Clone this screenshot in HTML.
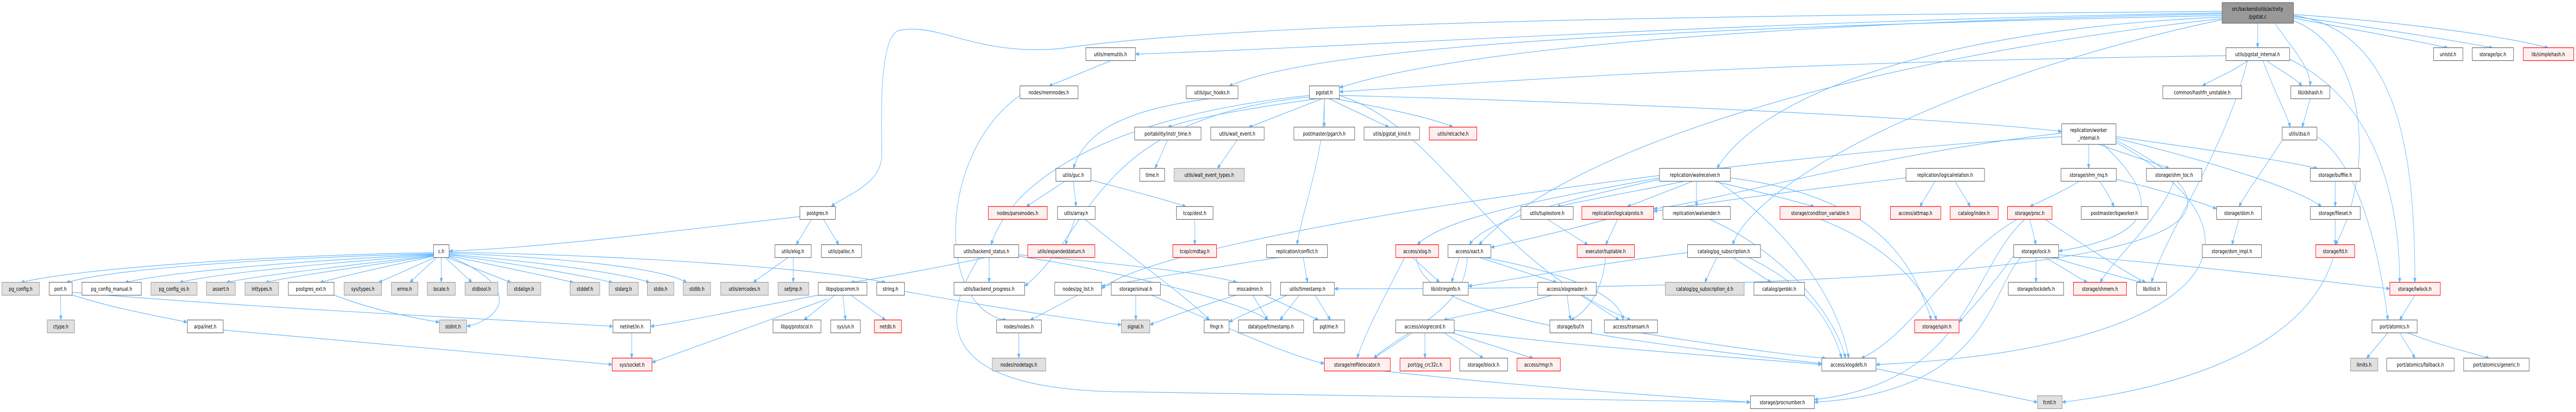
<!DOCTYPE html>
<html><head><meta charset="utf-8"><style>
html,body{margin:0;padding:0;background:#fff;width:100%;height:100%;overflow:hidden;}
svg{display:block;width:100vw;height:100vh;position:absolute;left:0;top:0}
.e{fill:none;stroke:#63b8ff;stroke-width:1.2}
rect{stroke-width:1.2}
.n{fill:#fff;stroke:#666}
.r{fill:#fff0f0;stroke:#f00}
.g{fill:#e0e0e0;stroke:#999}
.d{fill:#999;stroke:#666}
text{font-family:"DejaVu Sans","Liberation Sans",sans-serif;font-size:10.5px;text-anchor:middle;fill:#000}
</style></head><body>
<svg viewBox="0 0 6602 799" preserveAspectRatio="none" xmlns="http://www.w3.org/2000/svg">
<defs><marker id="a" markerWidth="10" markerHeight="8" refX="9" refY="4" orient="auto" markerUnits="userSpaceOnUse"><path d="M0,0 L10,4 L0,8 z" fill="#63b8ff"/></marker></defs>
<g class="e" marker-end="url(#a)">
<path d="M5786 45 L5786 93"/>
<path d="M5830 45 C5880 100 5921 130 5921 167"/>
<path d="M5878 35 C6050 60 6200 80 6274 93"/>
<path d="M5878 32 C6100 55 6300 80 6389 93"/>
<path d="M5878 28 C6200 45 6450 75 6531 93"/>
<path d="M5878 30 C6150 60 6189 300 6189 548"/>
<path d="M5878 40 C6080 100 6080 350 5985 475"/>
<path d="M5695 25 C4500 40 3500 90 2910 105"/>
<path d="M5695 22 C4500 30 3200 40 2720 94 C2500 110 2400 40 2300 60 C2250 80 2260 250 2260 300 C2260 360 2160 380 2130 401"/>
<path d="M5695 30 C4500 50 3400 80 3150 167"/>
<path d="M5695 27 C4800 40 3800 80 3433 170"/>
<path d="M5695 33 C4900 60 4500 200 4400 327"/>
<path d="M5695 36 C4700 120 4000 300 3790 475"/>
<path d="M5695 38 C5000 150 4500 350 4440 475"/>
<path d="M3433 185 C4200 200 5000 230 5284 255"/>
<path d="M5760 118 C5720 140 5680 150 5644 167"/>
<path d="M5810 118 C5850 140 5880 150 5900 167"/>
<path d="M5800 118 C5830 180 5860 220 5870 247"/>
<path d="M5760 118 C5700 300 5550 450 5514 548"/>
<path d="M5868 115 C6100 200 6150 400 6150 548"/>
<path d="M5705 108 C4500 120 3800 160 3433 178"/>
<path d="M5921 191 L5900 247"/>
<path d="M5850 271 C5800 330 5760 370 5738 401"/>
<path d="M5938 265 C6050 320 6100 500 6120 621"/>
<path d="M5353 280 L5353 327"/>
<path d="M5380 280 C5450 300 5520 315 5560 327"/>
<path d="M5423 265 C5650 290 5850 310 5940 327"/>
<path d="M5423 268 C5700 320 5900 370 5950 401"/>
<path d="M5390 280 C5560 400 5500 460 5276 487"/>
<path d="M5423 272 C5800 420 5800 560 3420 560"/>
<path d="M5423 276 C5900 480 5600 680 4808 707"/>
<path d="M5284 265 C4500 300 3000 450 2823 560"/>
<path d="M5284 258 C4800 300 4400 390 4238 405"/>
<path d="M5330 351 C5290 370 5230 390 5202 401"/>
<path d="M5380 351 C5400 370 5410 390 5419 401"/>
<path d="M5424 348 C5550 370 5650 395 5681 405"/>
<path d="M5572 351 C5540 420 5420 500 5382 548"/>
<path d="M5985 351 L5985 401"/>
<path d="M5985 425 L5985 475"/>
<path d="M5738 425 L5720 475"/>
<path d="M5980 499 C5900 700 5500 760 5285 780"/>
<path d="M5202 425 L5218 475"/>
<path d="M5240 425 C5350 480 5450 530 5500 548"/>
<path d="M5170 425 C5000 500 4900 650 4770 695"/>
<path d="M5190 425 C5050 520 5050 740 4650 775"/>
<path d="M5218 499 L5218 548"/>
<path d="M5240 499 C5290 520 5330 540 5350 548"/>
<path d="M5260 499 C5350 520 5450 540 5490 548"/>
<path d="M5276 494 C5700 520 6000 550 6125 560"/>
<path d="M5180 499 C5100 560 5100 760 4650 780"/>
<path d="M5161 495 C5100 560 5050 600 5021 625"/>
<path d="M6189 572 L6150 621"/>
<path d="M6120 645 L6065 695"/>
<path d="M6150 645 L6190 695"/>
<path d="M6170 645 C6250 670 6340 685 6380 695"/>
<path d="M4808 715 C5000 745 5150 770 5222 780"/>
<path d="M4960 351 L4920 401"/>
<path d="M5010 351 L5050 401"/>
<path d="M4885 345 C4600 370 4400 390 4238 410"/>
<path d="M4320 351 C4200 370 4050 390 3990 401"/>
<path d="M4340 351 L4170 401"/>
<path d="M4348 351 L4348 401"/>
<path d="M4390 351 C4500 370 4600 390 4650 401"/>
<path d="M4253 345 C4000 380 3700 420 3632 475"/>
<path d="M4253 348 C4000 390 3800 430 3766 475"/>
<path d="M4435 345 C4800 380 4900 500 4950 621"/>
<path d="M4400 351 C4600 450 4720 600 4738 695"/>
<path d="M4665 425 C4850 480 4930 560 4964 621"/>
<path d="M4380 425 C4550 480 4700 600 4730 695"/>
<path d="M3965 425 L4070 475"/>
<path d="M4146 425 L4115 475"/>
<path d="M4120 425 C4000 450 3880 470 3821 480"/>
<path d="M4115 499 C4110 550 4080 600 4025 621"/>
<path d="M3620 499 L3690 548"/>
<path d="M3630 499 C3640 600 4000 650 4669 705"/>
<path d="M3600 499 C3560 560 3500 640 3478 695"/>
<path d="M3740 499 L3720 548"/>
<path d="M3790 499 L3990 548"/>
<path d="M3800 499 C3950 520 4150 560 4160 621"/>
<path d="M3760 499 C3760 600 3600 640 3520 695"/>
<path d="M4400 499 L4369 548"/>
<path d="M4440 499 L4540 548"/>
<path d="M4480 499 C4650 560 4700 640 4720 695"/>
<path d="M4325 490 C4100 510 3900 540 3763 555"/>
<path d="M4016 572 L4025 621"/>
<path d="M4050 572 L4150 621"/>
<path d="M3980 572 C3850 600 3750 610 3700 621"/>
<path d="M3620 645 L3520 695"/>
<path d="M3652 645 L3652 695"/>
<path d="M3700 645 L3802 695"/>
<path d="M3720 645 L3930 695"/>
<path d="M3727 640 C4000 670 4400 690 4669 707"/>
<path d="M4200 645 C4400 670 4600 690 4680 695"/>
<path d="M3540 719 C3900 750 4300 770 4486 780"/>
<path d="M3380 191 C3200 210 3050 230 2993 247"/>
<path d="M3390 191 L3200 247"/>
<path d="M3394 191 L3394 247"/>
<path d="M3405 191 L3560 247"/>
<path d="M3420 191 C3550 210 3680 230 3724 247"/>
<path d="M3356 185 C2900 220 2600 330 2540 475"/>
<path d="M3394 191 C3394 300 3340 400 3324 475"/>
<path d="M3356 188 C2800 230 2800 450 2626 555"/>
<path d="M3433 185 C3700 250 3800 500 4180 621"/>
<path d="M3106 191 C2900 210 2780 250 2751 327"/>
<path d="M2846 118 L2688 167"/>
<path d="M2614 185 C2400 300 2400 600 2580 621"/>
<path d="M2993 271 L2960 327"/>
<path d="M3171 271 L3120 327"/>
<path d="M2730 351 L2630 401"/>
<path d="M2751 351 L2758 401"/>
<path d="M2790 348 C2900 370 3000 390 3040 401"/>
<path d="M2755 425 L2730 475"/>
<path d="M2780 425 C2900 500 3050 580 3100 621"/>
<path d="M3062 425 L3062 475"/>
<path d="M2080 425 L2040 475"/>
<path d="M2110 425 L2150 475"/>
<path d="M2050 420 C1700 450 1400 480 1151 487"/>
<path d="M2020 499 L1930 548"/>
<path d="M2033 499 L2033 548"/>
<path d="M2528 499 C2400 520 2250 540 2180 548"/>
<path d="M2535 499 L2535 548"/>
<path d="M2611 494 C2850 510 3100 530 3170 548"/>
<path d="M2611 497 C2900 530 3200 590 3250 621"/>
<path d="M2510 499 C2380 650 2450 760 2900 760 C3700 770 4300 775 4486 780"/>
<path d="M2140 572 L2060 621"/>
<path d="M2160 572 L2167 621"/>
<path d="M2180 572 L2270 621"/>
<path d="M2120 580 C1900 640 1750 680 1671 703"/>
<path d="M2100 572 C1900 600 1750 625 1667 633"/>
<path d="M2318 565 C2500 590 2750 620 2874 630"/>
<path d="M2763 572 L2640 621"/>
<path d="M2911 572 L2911 621"/>
<path d="M2950 572 C3100 620 3300 690 3394 705"/>
<path d="M3170 572 C3050 600 2980 620 2947 630"/>
<path d="M3210 572 L3250 621"/>
<path d="M3240 572 L3380 621"/>
<path d="M3330 572 L3280 621"/>
<path d="M3300 572 C3220 600 3170 615 3150 625"/>
<path d="M3370 572 L3410 621"/>
<path d="M3280 499 C3100 520 2900 545 2823 555"/>
<path d="M3340 499 L3351 548"/>
<path d="M2611 645 L2611 695"/>
<path d="M155 572 L156 621"/>
<path d="M185 572 C300 600 420 615 480 625"/>
<path d="M185 567 C700 600 1300 620 1571 633"/>
<path d="M572 640 C1000 670 1400 695 1569 707"/>
<path d="M1619 645 L1619 695"/>
<path d="M856 572 C950 600 1050 615 1126 625"/>
<path d="M1111 490 C700 495 200 520 53 548"/>
<path d="M1111 492 C700 500 300 520 170 548"/>
<path d="M1111 493 C800 505 450 525 320 548"/>
<path d="M1111 494 C850 510 550 530 460 548"/>
<path d="M1111 495 C900 515 650 535 580 548"/>
<path d="M1111 496 C950 515 750 535 680 548"/>
<path d="M1111 497 C1000 515 880 535 820 548"/>
<path d="M1115 499 L970 548"/>
<path d="M1120 499 L1050 548"/>
<path d="M1131 499 L1131 548"/>
<path d="M1140 499 L1210 548"/>
<path d="M1145 499 L1310 548"/>
<path d="M1151 496 C1300 520 1400 535 1470 548"/>
<path d="M1151 494 C1350 515 1500 535 1570 548"/>
<path d="M1151 493 C1400 510 1600 530 1665 548"/>
<path d="M1151 491 C1450 500 1700 520 1760 548"/>
<path d="M1151 489 C1600 495 2100 520 2270 548"/>
<path d="M1151 497 C1350 560 1280 620 1196 633"/>
</g>
<rect class="d" x="5695" y="5" width="183" height="40"/><text x="5786" y="21">src/backend/utils/activity</text><text x="5786" y="36">/pgstat.c</text>
<rect class="n" x="5705" y="92.5" width="163" height="25"/><text x="5786" y="109">utils/pgstat_internal.h</text>
<rect class="n" x="6237" y="92.5" width="75" height="25"/><text x="6274" y="109">unistd.h</text>
<rect class="n" x="6336" y="92.5" width="106" height="25"/><text x="6389" y="109">storage/ipc.h</text>
<rect class="r" x="6467" y="92.5" width="129" height="25"/><text x="6531" y="109">lib/simplehash.h</text>
<rect class="n" x="2783" y="92.5" width="127" height="25"/><text x="2846" y="109">utils/memutils.h</text>
<rect class="n" x="5543" y="166.5" width="202" height="25"/><text x="5644" y="183">common/hashfn_unstable.h</text>
<rect class="n" x="5871" y="166.5" width="100" height="25"/><text x="5921" y="183">lib/dshash.h</text>
<rect class="n" x="2614" y="166.5" width="149" height="25"/><text x="2688" y="183">nodes/memnodes.h</text>
<rect class="n" x="3040" y="166.5" width="133" height="25"/><text x="3106" y="183">utils/guc_hooks.h</text>
<rect class="n" x="3356" y="166.5" width="77" height="25"/><text x="3394" y="183">pgstat.h</text>
<rect class="n" x="5284" y="240" width="139" height="40"/><text x="5353" y="256">replication/worker</text><text x="5353" y="271">_internal.h</text>
<rect class="n" x="5849" y="246.5" width="89" height="25"/><text x="5893" y="263">utils/dsa.h</text>
<rect class="n" x="2908" y="246.5" width="170" height="25"/><text x="2993" y="263">portability/instr_time.h</text>
<rect class="n" x="3103" y="246.5" width="137" height="25"/><text x="3171" y="263">utils/wait_event.h</text>
<rect class="n" x="3316" y="246.5" width="156" height="25"/><text x="3394" y="263">postmaster/pgarch.h</text>
<rect class="n" x="3496" y="246.5" width="142" height="25"/><text x="3567" y="263">utils/pgstat_kind.h</text>
<rect class="r" x="3663" y="246.5" width="122" height="25"/><text x="3724" y="263">utils/relcache.h</text>
<rect class="n" x="5282" y="326.5" width="142" height="25"/><text x="5353" y="343">storage/shm_mq.h</text>
<rect class="n" x="5501" y="326.5" width="142" height="25"/><text x="5572" y="343">storage/shm_toc.h</text>
<rect class="n" x="5921" y="326.5" width="128" height="25"/><text x="5985" y="343">storage/buffile.h</text>
<rect class="n" x="4253" y="326.5" width="182" height="25"/><text x="4344" y="343">replication/walreceiver.h</text>
<rect class="n" x="4885" y="326.5" width="201" height="25"/><text x="4985" y="343">replication/logicalrelation.h</text>
<rect class="n" x="2706" y="326.5" width="90" height="25"/><text x="2751" y="343">utils/guc.h</text>
<rect class="n" x="2921" y="326.5" width="64" height="25"/><text x="2953" y="343">time.h</text>
<rect class="g" x="3009" y="326.5" width="180" height="25"/><text x="3099" y="343">utils/wait_event_types.h</text>
<rect class="r" x="5145" y="400.5" width="114" height="25"/><text x="5202" y="417">storage/proc.h</text>
<rect class="n" x="5334" y="400.5" width="171" height="25"/><text x="5419" y="417">postmaster/bgworker.h</text>
<rect class="n" x="5681" y="400.5" width="115" height="25"/><text x="5738" y="417">storage/dsm.h</text>
<rect class="n" x="5921" y="400.5" width="128" height="25"/><text x="5985" y="417">storage/fileset.h</text>
<rect class="n" x="3898" y="400.5" width="134" height="25"/><text x="3965" y="417">utils/tuplestore.h</text>
<rect class="r" x="4054" y="400.5" width="184" height="25"/><text x="4146" y="417">replication/logicalproto.h</text>
<rect class="n" x="4262" y="400.5" width="173" height="25"/><text x="4348" y="417">replication/walsender.h</text>
<rect class="r" x="4562" y="400.5" width="206" height="25"/><text x="4665" y="417">storage/condition_variable.h</text>
<rect class="r" x="4845" y="400.5" width="129" height="25"/><text x="4909" y="417">access/attmap.h</text>
<rect class="r" x="4998" y="400.5" width="123" height="25"/><text x="5059" y="417">catalog/index.h</text>
<rect class="n" x="2050" y="400.5" width="91" height="25"/><text x="2095" y="417">postgres.h</text>
<rect class="r" x="2533" y="400.5" width="151" height="25"/><text x="2608" y="417">nodes/parsenodes.h</text>
<rect class="n" x="2710" y="400.5" width="97" height="25"/><text x="2758" y="417">utils/array.h</text>
<rect class="n" x="3015" y="400.5" width="94" height="25"/><text x="3062" y="417">tcop/dest.h</text>
<rect class="n" x="5161" y="474.5" width="115" height="25"/><text x="5218" y="491">storage/lock.h</text>
<rect class="n" x="5644" y="474.5" width="152" height="25"/><text x="5720" y="491">storage/dsm_impl.h</text>
<rect class="r" x="5935" y="474.5" width="100" height="25"/><text x="5985" y="491">storage/fd.h</text>
<rect class="r" x="3577" y="474.5" width="110" height="25"/><text x="3632" y="491">access/xlog.h</text>
<rect class="n" x="3711" y="474.5" width="110" height="25"/><text x="3766" y="491">access/xact.h</text>
<rect class="r" x="4042" y="474.5" width="147" height="25"/><text x="4115" y="491">executor/tuptable.h</text>
<rect class="n" x="4325" y="474.5" width="187" height="25"/><text x="4418" y="491">catalog/pg_subscription.h</text>
<rect class="n" x="1111" y="474.5" width="40" height="25"/><text x="1131" y="491">c.h</text>
<rect class="n" x="1986" y="474.5" width="93" height="25"/><text x="2032" y="491">utils/elog.h</text>
<rect class="n" x="2105" y="474.5" width="103" height="25"/><text x="2156" y="491">utils/palloc.h</text>
<rect class="n" x="2445" y="474.5" width="166" height="25"/><text x="2528" y="491">utils/backend_status.h</text>
<rect class="r" x="2634" y="474.5" width="172" height="25"/><text x="2720" y="491">utils/expandeddatum.h</text>
<rect class="r" x="3006" y="474.5" width="112" height="25"/><text x="3062" y="491">tcop/cmdtag.h</text>
<rect class="n" x="3246" y="474.5" width="156" height="25"/><text x="3324" y="491">replication/conflict.h</text>
<rect class="g" x="5" y="547.5" width="96" height="25"/><text x="53" y="564">pg_config.h</text>
<rect class="n" x="126" y="547.5" width="59" height="25"/><text x="155" y="564">port.h</text>
<rect class="n" x="210" y="547.5" width="152" height="25"/><text x="286" y="564">pg_config_manual.h</text>
<rect class="g" x="387" y="547.5" width="118" height="25"/><text x="446" y="564">pg_config_os.h</text>
<rect class="g" x="529" y="547.5" width="74" height="25"/><text x="566" y="564">assert.h</text>
<rect class="g" x="628" y="547.5" width="86" height="25"/><text x="671" y="564">inttypes.h</text>
<rect class="n" x="739" y="547.5" width="117" height="25"/><text x="797" y="564">postgres_ext.h</text>
<rect class="g" x="882" y="547.5" width="96" height="25"/><text x="930" y="564">sys/types.h</text>
<rect class="g" x="1003" y="547.5" width="68" height="25"/><text x="1037" y="564">errno.h</text>
<rect class="g" x="1095" y="547.5" width="72" height="25"/><text x="1131" y="564">locale.h</text>
<rect class="g" x="1192" y="547.5" width="84" height="25"/><text x="1234" y="564">stdbool.h</text>
<rect class="g" x="1300" y="547.5" width="86" height="25"/><text x="1343" y="564">stdalign.h</text>
<rect class="g" x="1461" y="547.5" width="76" height="25"/><text x="1499" y="564">stddef.h</text>
<rect class="g" x="1561" y="547.5" width="75" height="25"/><text x="1598" y="564">stdarg.h</text>
<rect class="g" x="1659" y="547.5" width="68" height="25"/><text x="1693" y="564">stdio.h</text>
<rect class="g" x="1751" y="547.5" width="70" height="25"/><text x="1786" y="564">stdlib.h</text>
<rect class="g" x="1847" y="547.5" width="122" height="25"/><text x="1908" y="564">utils/errcodes.h</text>
<rect class="g" x="1994" y="547.5" width="79" height="25"/><text x="2033" y="564">setjmp.h</text>
<rect class="n" x="2097" y="547.5" width="125" height="25"/><text x="2159" y="564">libpq/pqcomm.h</text>
<rect class="n" x="2247" y="547.5" width="71" height="25"/><text x="2282" y="564">string.h</text>
<rect class="n" x="2445" y="547.5" width="181" height="25"/><text x="2535" y="564">utils/backend_progress.h</text>
<rect class="n" x="2703" y="547.5" width="120" height="25"/><text x="2763" y="564">nodes/pg_list.h</text>
<rect class="n" x="2848" y="547.5" width="126" height="25"/><text x="2911" y="564">storage/sinval.h</text>
<rect class="n" x="3149" y="547.5" width="108" height="25"/><text x="3203" y="564">miscadmin.h</text>
<rect class="n" x="3282" y="547.5" width="138" height="25"/><text x="3351" y="564">utils/timestamp.h</text>
<rect class="n" x="3647" y="547.5" width="116" height="25"/><text x="3705" y="564">lib/stringinfo.h</text>
<rect class="n" x="3941" y="547.5" width="150" height="25"/><text x="4016" y="564">access/xlogreader.h</text>
<rect class="g" x="4268" y="547.5" width="202" height="25"/><text x="4369" y="564">catalog/pg_subscription_d.h</text>
<rect class="n" x="4495" y="547.5" width="130" height="25"/><text x="4560" y="564">catalog/genbki.h</text>
<rect class="n" x="5147" y="547.5" width="142" height="25"/><text x="5218" y="564">storage/lockdefs.h</text>
<rect class="r" x="5314" y="547.5" width="136" height="25"/><text x="5382" y="564">storage/shmem.h</text>
<rect class="n" x="5476" y="547.5" width="77" height="25"/><text x="5514" y="564">lib/ilist.h</text>
<rect class="r" x="6125" y="547.5" width="129" height="25"/><text x="6189" y="564">storage/lwlock.h</text>
<rect class="g" x="121" y="620.5" width="70" height="25"/><text x="156" y="637">ctype.h</text>
<rect class="n" x="480" y="620.5" width="92" height="25"/><text x="526" y="637">arpa/inet.h</text>
<rect class="g" x="1126" y="620.5" width="70" height="25"/><text x="1161" y="637">stdint.h</text>
<rect class="n" x="1571" y="620.5" width="96" height="25"/><text x="1619" y="637">netinet/in.h</text>
<rect class="n" x="1981" y="620.5" width="123" height="25"/><text x="2042" y="637">libpq/protocol.h</text>
<rect class="n" x="2129" y="620.5" width="76" height="25"/><text x="2167" y="637">sys/un.h</text>
<rect class="r" x="2241" y="620.5" width="69" height="25"/><text x="2275" y="637">netdb.h</text>
<rect class="n" x="2554" y="620.5" width="115" height="25"/><text x="2611" y="637">nodes/nodes.h</text>
<rect class="g" x="2874" y="620.5" width="73" height="25"/><text x="2910" y="637">signal.h</text>
<rect class="n" x="3086" y="620.5" width="64" height="25"/><text x="3118" y="637">fmgr.h</text>
<rect class="n" x="3174" y="620.5" width="167" height="25"/><text x="3257" y="637">datatype/timestamp.h</text>
<rect class="n" x="3366" y="620.5" width="80" height="25"/><text x="3406" y="637">pgtime.h</text>
<rect class="n" x="3577" y="620.5" width="150" height="25"/><text x="3652" y="637">access/xlogrecord.h</text>
<rect class="n" x="3972" y="620.5" width="107" height="25"/><text x="4025" y="637">storage/buf.h</text>
<rect class="n" x="4112" y="620.5" width="136" height="25"/><text x="4180" y="637">access/transam.h</text>
<rect class="r" x="4907" y="620.5" width="114" height="25"/><text x="4964" y="637">storage/spin.h</text>
<rect class="n" x="6079" y="620.5" width="116" height="25"/><text x="6137" y="637">port/atomics.h</text>
<rect class="r" x="1569" y="694.5" width="102" height="25"/><text x="1620" y="711">sys/socket.h</text>
<rect class="g" x="2543" y="694.5" width="137" height="25"/><text x="2611" y="711">nodes/nodetags.h</text>
<rect class="r" x="3394" y="694.5" width="169" height="25"/><text x="3478" y="711">storage/relfilelocator.h</text>
<rect class="r" x="3588" y="694.5" width="129" height="25"/><text x="3652" y="711">port/pg_crc32c.h</text>
<rect class="n" x="3741" y="694.5" width="123" height="25"/><text x="3802" y="711">storage/block.h</text>
<rect class="r" x="3888" y="694.5" width="111" height="25"/><text x="3943" y="711">access/rmgr.h</text>
<rect class="n" x="4669" y="694.5" width="139" height="25"/><text x="4738" y="711">access/xlogdefs.h</text>
<rect class="g" x="6024" y="694.5" width="70" height="25"/><text x="6059" y="711">limits.h</text>
<rect class="n" x="6117" y="694.5" width="173" height="25"/><text x="6203" y="711">port/atomics/fallback.h</text>
<rect class="n" x="6314" y="694.5" width="168" height="25"/><text x="6398" y="711">port/atomics/generic.h</text>
<rect class="n" x="4486" y="767.5" width="164" height="25"/><text x="4568" y="784">storage/procnumber.h</text>
<rect class="g" x="5222" y="767.5" width="63" height="25"/><text x="5253" y="784">fcntl.h</text>
</svg>
</body></html>
